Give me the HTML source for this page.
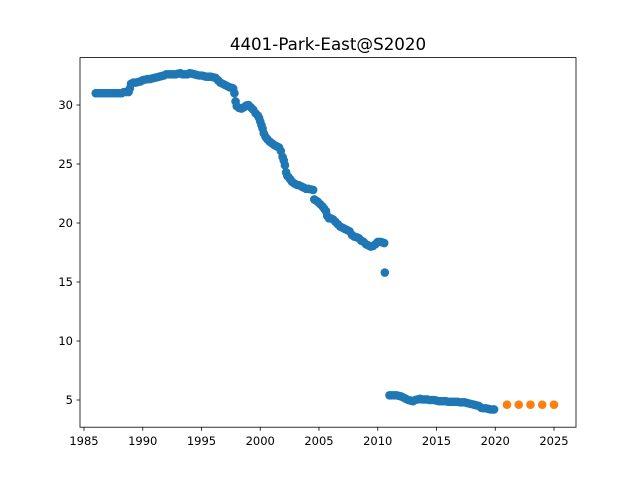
<!DOCTYPE html>
<html><head><meta charset="utf-8"><style>
body{margin:0;background:#fff}
svg{display:block;font-family:"DejaVu Sans","Liberation Sans",sans-serif}
</style></head><body>
<svg id="chart" width="640" height="480" viewBox="0 0 640 480">
<rect width="640" height="480" fill="#fff"/>
<text x="328" y="50" text-anchor="middle" font-size="16.7">4401-Park-East@S2020</text>
<g id="marks"></g>
<rect x="80" y="57.6" width="496" height="369.6" fill="none" stroke="#000" stroke-width="0.8"/>
<g id="axes"></g>
</svg>
<script>
const histYears=[1986.0,1986.2,1986.4,1986.6,1986.8,1987.0,1987.2,1987.4,1987.6,1987.8,1988.0,1988.2,1988.4,1988.6,1988.8,1988.9,1989.0,1989.2,1989.4,1989.6,1989.8,1990.0,1990.2,1990.4,1990.6,1990.8,1991.0,1991.2,1991.4,1991.6,1991.8,1992.0,1992.2,1992.4,1992.6,1992.8,1993.0,1993.2,1993.4,1993.6,1993.8,1994.0,1994.2,1994.4,1994.6,1994.8,1995.0,1995.2,1995.4,1995.6,1995.8,1996.0,1996.2,1996.4,1996.6,1996.8,1997.0,1997.2,1997.4,1997.6,1997.7,1997.8,1997.9,1998.0,1998.2,1998.4,1998.6,1998.8,1999.0,1999.2,1999.4,1999.6,1999.8,1999.9,2000.0,2000.1,2000.2,2000.3,2000.45,2000.6,2000.8,2001.0,2001.2,2001.4,2001.6,2001.75,2001.9,2002.0,2002.1,2002.2,2002.3,2002.4,2002.55,2002.7,2002.9,2003.1,2003.3,2003.5,2003.7,2003.9,2004.1,2004.3,2004.5,2004.6,2004.75,2004.9,2005.1,2005.3,2005.45,2005.6,2005.7,2005.85,2006.0,2006.2,2006.4,2006.6,2006.8,2007.0,2007.2,2007.4,2007.6,2007.8,2008.0,2008.2,2008.4,2008.6,2008.8,2009.0,2009.2,2009.4,2009.6,2009.8,2010.0,2010.2,2010.4,2010.55,2010.6,
2011.0,2011.2,2011.4,2011.6,2011.8,2012.0,2012.2,2012.4,2012.6,2012.8,2013.0,2013.2,2013.4,2013.6,2013.8,2014.0,2014.2,2014.4,2014.6,2014.8,2015.0,2015.2,2015.4,2015.6,2015.8,2016.0,2016.2,2016.4,2016.6,2016.8,2017.0,2017.2,2017.4,2017.6,2017.8,2018.0,2018.2,2018.4,2018.6,2018.8,2019.0,2019.2,2019.4,2019.6,2019.8,2019.9];
const histValues=[31.0,31.0,31.0,31.0,31.0,31.0,31.0,31.0,31.0,31.0,31.0,31.0,31.1,31.1,31.1,31.4,31.8,31.9,31.9,31.95,32.0,32.1,32.15,32.2,32.2,32.25,32.3,32.35,32.4,32.45,32.5,32.6,32.6,32.6,32.6,32.6,32.65,32.7,32.6,32.6,32.6,32.7,32.65,32.6,32.55,32.5,32.5,32.45,32.4,32.4,32.4,32.35,32.3,32.1,31.9,31.8,31.7,31.6,31.5,31.45,31.4,31.0,30.3,29.9,29.75,29.7,29.8,29.95,30.0,29.8,29.6,29.3,29.1,28.9,28.6,28.3,28.0,27.6,27.3,27.1,26.9,26.75,26.6,26.5,26.4,26.1,25.6,25.3,24.9,24.3,24.0,23.9,23.7,23.5,23.35,23.25,23.2,23.1,23.0,22.9,22.9,22.85,22.8,22.0,21.9,21.8,21.6,21.4,21.2,21.0,20.6,20.4,20.4,20.3,20.1,19.9,19.7,19.6,19.5,19.4,19.3,19.0,18.85,18.8,18.7,18.5,18.4,18.2,18.1,18.0,18.05,18.2,18.4,18.4,18.35,18.3,15.8,
5.4,5.4,5.4,5.4,5.35,5.3,5.2,5.1,5.0,4.95,4.9,5.0,5.05,5.1,5.05,5.05,5.05,5.0,5.0,5.0,4.95,4.9,4.9,4.9,4.9,4.85,4.85,4.85,4.85,4.85,4.8,4.8,4.8,4.75,4.7,4.65,4.6,4.55,4.5,4.35,4.3,4.3,4.25,4.2,4.2,4.2];
const forecastYears=[2021,2022,2023,2024,2025];
const forecastValues=[4.6,4.6,4.6,4.6,4.6];
const xTicks=[1985,1990,1995,2000,2005,2010,2015,2020,2025];
const yTicks=[5,10,15,20,25,30];

const NS="http://www.w3.org/2000/svg";
const xScale=v=>84+(v-1985)*11.75;
const yScale=v=>400-(v-5)*11.8;
const marks=document.getElementById('marks');
const axes=document.getElementById('axes');
function dot(x,y,c,name){
  const e=document.createElementNS(NS,'circle');
  e.setAttribute('cx',xScale(x));e.setAttribute('cy',yScale(y));e.setAttribute('r',4.3);e.setAttribute('fill',c);
  
  
  marks.appendChild(e);
}
histYears.forEach((x,i)=>dot(x,histValues[i],'#1f77b4','history-point'));
forecastYears.forEach((x,i)=>dot(x,forecastValues[i],'#ff7f0e','forecast-point'));
function el(tag,attrs,txt){const e=document.createElementNS(NS,tag);for(const k in attrs)e.setAttribute(k,attrs[k]);if(txt!==undefined)e.textContent=txt;axes.appendChild(e);return e;}
xTicks.forEach(t=>{
  const x=xScale(t);
  const l=el('line',{x1:x,x2:x,y1:427.2,y2:430.7,stroke:'#000','stroke-width':0.8});
  
  
  const tx=el('text',{x:x,y:445,'text-anchor':'middle','font-size':11.5},t);
  
  
});
yTicks.forEach(t=>{
  const y=yScale(t);
  const l=el('line',{x1:76.5,x2:80,y1:y,y2:y,stroke:'#000','stroke-width':0.8});
  
  
  const tx=el('text',{x:73,y:y+4,'text-anchor':'end','font-size':11.5},t);
  
  
});
</script>
</body></html>
